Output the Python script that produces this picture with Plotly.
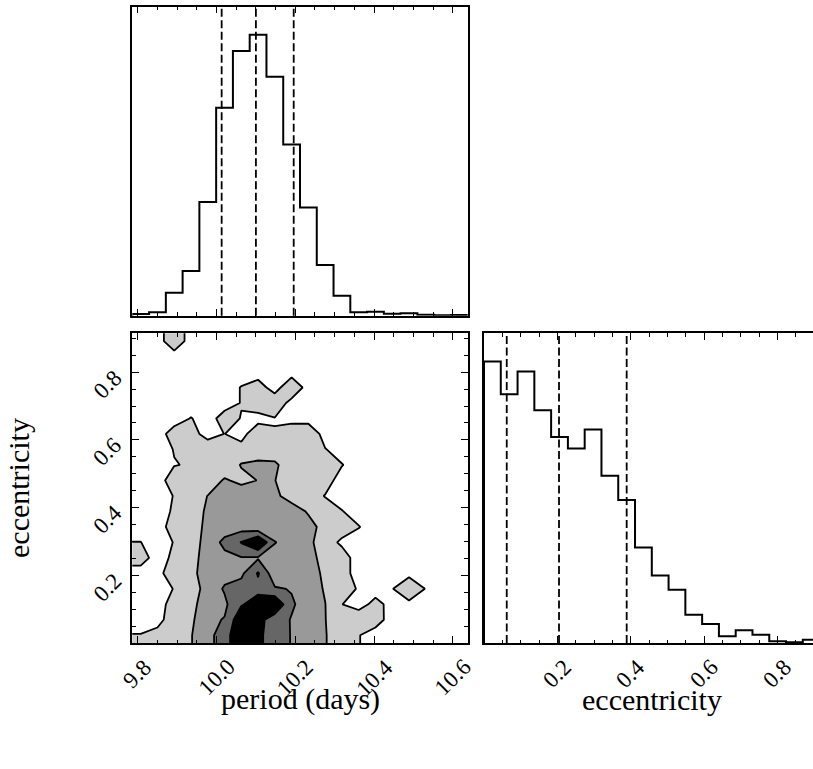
import numpy as np
import plotly.graph_objects as go

W, H = 813, 769

# ---------------- data ----------------
period_range = [9.786, 10.638]
ecc_range = [0.0, 0.915]
ecc_view = [0.0, 0.897]          # visible part of the (cropped) right-hand panel

period_counts = [5, 10, 69, 134, 341, 624, 794, 843, 717, 514,
                 325, 152, 60, 10, 12, 6, 7, 3, 1, 2]
ecc_counts = [847, 748, 817, 700, 620, 585, 642, 503, 430, 287,
              203, 160, 85, 57, 20, 38, 25, 5, 2, 10]

period_quantiles = [10.013, 10.100, 10.196]
ecc_quantiles = [0.062, 0.2045, 0.389]

period_ticks = [9.8, 10.0, 10.2, 10.4, 10.6]
period_ticklabels = ["9.8", "10.0", "10.2", "10.4", "10.6"]
ecc_ticks = [0.2, 0.4, 0.6, 0.8]
ecc_ticklabels = ["0.2", "0.4", "0.6", "0.8"]

x_title = "period (days)"
y_title = "eccentricity"

# 2-D density (contour band index scale), rows = eccentricity bins bottom->top,
# columns = period bins left->right
density = [
    [0.55, 1, 1, 1.45, 2.2, 3.0, 4.5, 3.85, 2.7, 2.48, 2.0, 1.55, 1, 0.55, 0, 0, 0, 0, 0, 0],
    [0, 0, 1.35, 1.3, 2.3, 2.55, 4.3, 3.9, 2.9, 2.45, 2.0, 1.52, 1, 1.35, 1, 0, 0, 0, 0, 0],
    [0, 0, 1, 1, 2.4, 2.3, 3.4, 4.0, 4.5, 2.6, 2.15, 1.52, 0.52, 0, 0.88, 0.1, 0.2, 0, 0, 0],
    [0, 0, 0.55, 1, 1.9, 2.6, 2.9, 3.2, 2.6, 2.45, 2.05, 1.4, 1, 0.4, 0, 0.45, 1.4, 0.45, 0, 0],
    [0, 0, 1.45, 1.2, 2.03, 2.2, 2.3, 3.6, 1.85, 2.0, 2.2, 1.2, 1, 0, 0, 0, 0.2, 0, 0, 0],
    [1, 0, 0.75, 1, 2.1, 2.25, 2.45, 2.4, 2.0, 2.0, 2.0, 1, 1, 0, 0, 0, 0, 0, 0, 0],
    [0.52, 0, 0.55, 1, 1.9, 2.75, 3.55, 4.6, 2.55, 2.0, 1.72, 1, 0.3, 0, 0, 0, 0, 0, 0, 0],
    [0, 0, 1, 1, 1.76, 2.0, 2.05, 1.75, 1.8, 2.0, 2.0, 1, 1, 0.55, 0, 0, 0, 0, 0, 0],
    [0, 0, 0.66, 1, 1.66, 2, 2, 2, 2, 2.2, 1.35, 1, 0.55, 0, 0, 0, 0, 0, 0, 0],
    [0, 0, 0.55, 1, 1.52, 2, 2, 2, 1.8, 0.9, 1, 0.45, 0, 0, 0, 0, 0, 0, 0, 0],
    [0, 0, 1.1, 1, 1, 1.59, 1.3, 1.52, 1.52, 1, 1, 1, 0, 0, 0, 0, 0, 0, 0, 0],
    [0, 0, 0.45, 0.6, 0.6, 1, 1.55, 1.7, 1.65, 1, 1, 1, 0.55, 0, 0, 0, 0, 0, 0, 0],
    [0, 0, 0.55, 1, 1.35, 1, 1, 1, 1, 1, 1, 0.55, 0, 0, 0, 0, 0, 0, 0, 0],
    [0, 0, 1, 1, 0, 0.52, 0, 1.47, 0.55, 1.47, 1.47, 0, 0, 0, 0, 0, 0, 0, 0, 0],
    [0, 0, 0, 0.55, 0, 1, 0.45, 0, 0.45, 0, 0, 0, 0, 0, 0, 0, 0, 0, 0, 0],
    [0, 0, 0, 0, 0, 0, 0.55, 1.4, 1.3, 0.1, 0, 0, 0, 0, 0, 0, 0, 0, 0, 0],
    [0, 0, 0, 0, 0, 0, 0.55, 1, 0, 1.45, 0, 0, 0, 0, 0, 0, 0, 0, 0, 0],
    [0, 0, 0, 0, 0, 0, 0, 0, 0, 0, 0, 0, 0, 0, 0, 0, 0, 0, 0, 0],
    [0, 0, 0, 0, 0, 0, 0, 0, 0, 0, 0, 0, 0, 0, 0, 0, 0, 0, 0, 0],
    [0, 0, 1.3, 0, 0, 0, 0, 0, 0, 0, 0, 0, 0, 0, 0, 0, 0, 0, 0, 0],
]
contour_levels = [0.5, 3.5, 1.0]   # start, end, step
band_colors = ["#ffffff", "#cccccc", "#999999", "#666666", "#000000"]

# ---------------- styling ----------------
FONT = "'Liberation Serif', 'DejaVu Serif', 'Times New Roman', serif"
TICK_SIZE = 23
TITLE_SIZE = 30
LINE_W = 1.5

dom_x_left = [132.3 / W, 467.7 / W]
dom_x_right = [484.0 / W, 1.0]
dom_y_top = [1 - 315.7 / H, 1 - 6.7 / H]
dom_y_bot = [1 - 643.0 / H, 1 - 333.3 / H]

fig = go.Figure()


def step_xy(counts, lo, hi):
    edges = np.linspace(lo, hi, len(counts) + 1)
    xs = np.concatenate([[edges[0]], edges])
    ys = np.concatenate([[0], np.asarray(counts, float), [0]])
    return xs, ys


# top-left: period histogram
xs, ys = step_xy(period_counts, *period_range)
fig.add_trace(go.Scatter(x=xs, y=ys, mode="lines", line=dict(color="black", width=2, shape="hv"),
                         xaxis="x", yaxis="y", hoverinfo="skip", showlegend=False))

# bottom-right: eccentricity histogram
xs, ys = step_xy(ecc_counts, *ecc_range)
fig.add_trace(go.Scatter(x=xs, y=ys, mode="lines", line=dict(color="black", width=2, shape="hv"),
                         xaxis="x3", yaxis="y3", hoverinfo="skip", showlegend=False))

# bottom-left: 2-D contour
Z = np.array(density, float)
nr, nc = Z.shape
dx = (period_range[1] - period_range[0]) / nc
dy = (ecc_range[1] - ecc_range[0]) / nr
xc = period_range[0] + dx * (np.arange(nc) + 0.5)
yc = ecc_range[0] + dy * (np.arange(nr) + 0.5)
Zp = np.pad(Z, 1, mode="edge")
xp = np.concatenate([[xc[0] - dx], xc, [xc[-1] + dx]])
yp = np.concatenate([[yc[0] - dy], yc, [yc[-1] + dy]])
cs = []
nb = len(band_colors)
for i, c in enumerate(band_colors):
    lo = 0 if i == 0 else (i - 0.5) / (nb - 1)
    hi = 1 if i == nb - 1 else (i + 0.5) / (nb - 1)
    cs += [[lo, c], [hi, c]]
fig.add_trace(go.Contour(
    x=xp, y=yp, z=Zp, xaxis="x2", yaxis="y2",
    contours=dict(start=contour_levels[0], end=contour_levels[1], size=contour_levels[2], coloring="fill"),
    colorscale=cs, showscale=False, line=dict(color="black", width=1.8, smoothing=0),
    hoverinfo="skip"))

# quantile lines
for q in period_quantiles:
    fig.add_shape(type="line", xref="x", yref="y domain", x0=q, x1=q, y0=0, y1=1,
                  line=dict(color="black", width=1.8, dash="8px,3.5px"))
for q in ecc_quantiles:
    fig.add_shape(type="line", xref="x3", yref="y3 domain", x0=q, x1=q, y0=0, y1=1,
                  line=dict(color="black", width=1.8, dash="8px,3.5px"))


def xcfg(domain, rng, anchor):
    return dict(domain=domain, range=rng, anchor=anchor, showline=True, linecolor="black",
                linewidth=LINE_W, mirror="ticks", ticks="inside", ticklen=7, tickwidth=1.1,
                tickcolor="black", tick0=0, dtick=0.2, showticklabels=False, showgrid=False,
                zeroline=False,
                minor=dict(ticks="inside", ticklen=3.5, tickwidth=1.0, tickcolor="black",
                           tick0=0, dtick=0.05, showgrid=False))


ycfg_2d = dict(domain=dom_y_bot, range=ecc_range, anchor="x2", showline=True, linecolor="black",
               linewidth=LINE_W, mirror="ticks", ticks="inside", ticklen=7, tickwidth=1.1,
               tickcolor="black", tick0=0, dtick=0.2, showticklabels=False, showgrid=False,
               zeroline=False,
               minor=dict(ticks="inside", ticklen=3.5, tickwidth=1.0, tickcolor="black",
                          tick0=0, dtick=0.05, showgrid=False))

fig.update_layout(
    width=W, height=H, margin=dict(l=0, r=0, t=0, b=0),
    paper_bgcolor="white", plot_bgcolor="white", showlegend=False,
    font=dict(family=FONT, color="black"),
    xaxis=xcfg(dom_x_left, period_range, "y"),
    yaxis=dict(domain=dom_y_top, range=[0, 1.1 * max(period_counts)], anchor="x",
               showline=True, linecolor="black", linewidth=LINE_W, mirror=True, ticks="",
               showticklabels=False, showgrid=False, zeroline=False),
    xaxis2=xcfg(dom_x_left, period_range, "y2"),
    yaxis2=ycfg_2d,
    xaxis3=xcfg(dom_x_right, ecc_view, "y3"),
    yaxis3=dict(domain=dom_y_bot, range=[0, 1.1 * max(ecc_counts)], anchor="x3",
                showline=True, linecolor="black", linewidth=LINE_W, mirror=False, ticks="",
                showticklabels=False, showgrid=False, zeroline=False),
)

ann = []
tfont = dict(family=FONT, size=TICK_SIZE, color="black")
for v, lab in zip(period_ticks, period_ticklabels):
    ann.append(dict(x=v, xref="x2", y=0, yref="y2 domain", text=lab, textangle=-45,
                    xanchor="center", yanchor="top", yshift=-9, showarrow=False, font=tfont))
for v, lab in zip(ecc_ticks, ecc_ticklabels):
    ann.append(dict(x=v, xref="x3", y=0, yref="y3 domain", text=lab, textangle=-45,
                    xanchor="center", yanchor="top", yshift=-9, showarrow=False, font=tfont))
    ann.append(dict(x=0, xref="x2 domain", y=v, yref="y2", text=lab, textangle=-45,
                    xanchor="right", yanchor="middle", xshift=-3, yshift=-12,
                    showarrow=False, font=tfont))
titfont = dict(family=FONT, size=TITLE_SIZE, color="black")
ann.append(dict(x=0.5, xref="x2 domain", y=1 - 699 / H, yref="paper", text=x_title,
                xanchor="center", yanchor="middle", showarrow=False, font=titfont))
ann.append(dict(x=652 / W, xref="paper", y=1 - 699 / H, yref="paper", text=y_title,
                xanchor="center", yanchor="middle", showarrow=False, font=titfont))
ann.append(dict(x=18 / W, xref="paper", y=1 - 488 / H, yref="paper", text=y_title, textangle=-90,
                xanchor="center", yanchor="middle", showarrow=False, font=titfont))
fig.update_layout(annotations=ann)

fig.write_html("out.html")
